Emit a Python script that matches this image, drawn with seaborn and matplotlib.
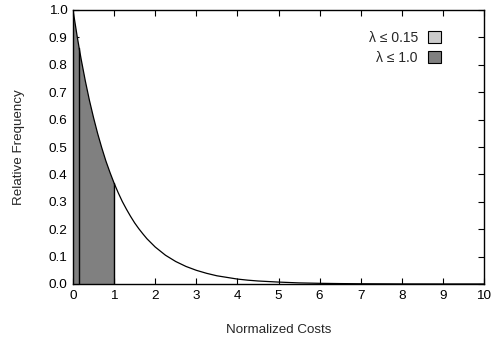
import matplotlib
matplotlib.use("Agg")
import matplotlib.pyplot as plt
import seaborn as sns
import numpy as np
import pandas as pd
from matplotlib.patches import Patch

# curve values
cost = [0.0, 0.1, 0.15, 0.2, 0.3, 0.4, 0.5, 0.6, 0.7, 0.8, 0.9, 1.0,
        1.1, 1.2, 1.3, 1.4, 1.5, 1.6, 1.7, 1.8, 1.9, 2.0,
        2.25, 2.5, 2.75, 3.0, 3.25, 3.5, 3.75, 4.0, 4.25, 4.5, 4.75, 5.0,
        5.5, 6.0, 6.5, 7.0, 7.5, 8.0, 8.5, 9.0, 9.5, 10.0]
freq = [1.000, 0.905, 0.861, 0.819, 0.741, 0.670, 0.607, 0.549, 0.497, 0.449, 0.407, 0.368,
        0.333, 0.301, 0.273, 0.247, 0.223, 0.202, 0.183, 0.165, 0.150, 0.135,
        0.105, 0.082, 0.064, 0.050, 0.039, 0.030, 0.024, 0.018, 0.014, 0.011, 0.009, 0.007,
        0.004, 0.0025, 0.0015, 0.0009, 0.0006, 0.0003, 0.0002, 0.0001, 0.0001, 0.00005]
thresholds = [0.15, 1.0]
legend_labels = ["λ ≤ 0.15", "λ ≤ 1.0"]
fill_colors = ["#cccccc", "#808080"]
x_ticks = list(range(0, 11))
y_ticks = [0.0, 0.1, 0.2, 0.3, 0.4, 0.5, 0.6, 0.7, 0.8, 0.9, 1.0]

sns.set_style("ticks")
plt.rcParams['font.family'] = ['Liberation Sans', 'DejaVu Sans']

df = pd.DataFrame({"cost": cost, "freq": freq})

fig = plt.figure(figsize=(4.92, 3.46), dpi=100)
ax = fig.add_axes([73/492, 1 - 284/346, (484-73)/492, (284-10)/346])

# dark fill for lambda <= 1.0
sub1 = df[df.cost <= thresholds[1]]
ax.fill_between(sub1.cost, 0, sub1.freq, facecolor=fill_colors[1], edgecolor="none", zorder=2)
ax.plot([thresholds[1], thresholds[1]], [0, sub1.freq.iloc[-1]], color="black", lw=1.0, zorder=3)
# outline for lambda <= 0.15
sub0 = df[df.cost <= thresholds[0]]
ax.plot([thresholds[0], thresholds[0]], [0, sub0.freq.iloc[-1]], color="black", lw=1.0, zorder=3)

sns.lineplot(data=df, x="cost", y="freq", ax=ax, color="black", linewidth=0.9, zorder=4)

ax.set_xlim(0, 10)
ax.set_ylim(0, 1.0)
ax.set_xticks(x_ticks)
ax.set_yticks(y_ticks)
ax.set_yticklabels([f"{v:.1f}" for v in y_ticks])
ax.tick_params(direction="in", length=4, width=0.8, top=True, right=True, labelsize=9.7, pad=4, colors="black")
for s in ax.spines.values():
    s.set_linewidth(1.0)
    s.set_color("black")
ax.set_xlabel("Normalized Costs", fontsize=9.6, labelpad=16)
ax.set_ylabel("Relative Frequency", fontsize=9.6, labelpad=17)

handles = [Patch(facecolor=c, edgecolor="black", linewidth=0.8) for c in fill_colors]
leg = ax.legend(handles, legend_labels, loc="upper right", frameon=False, fontsize=10,
                markerfirst=False, handlelength=1.0, handleheight=1.0, handletextpad=0.7,
                labelspacing=0.45, bbox_to_anchor=(0.92, 0.96), borderaxespad=0.3)

fig.savefig("out.png", dpi=100)
